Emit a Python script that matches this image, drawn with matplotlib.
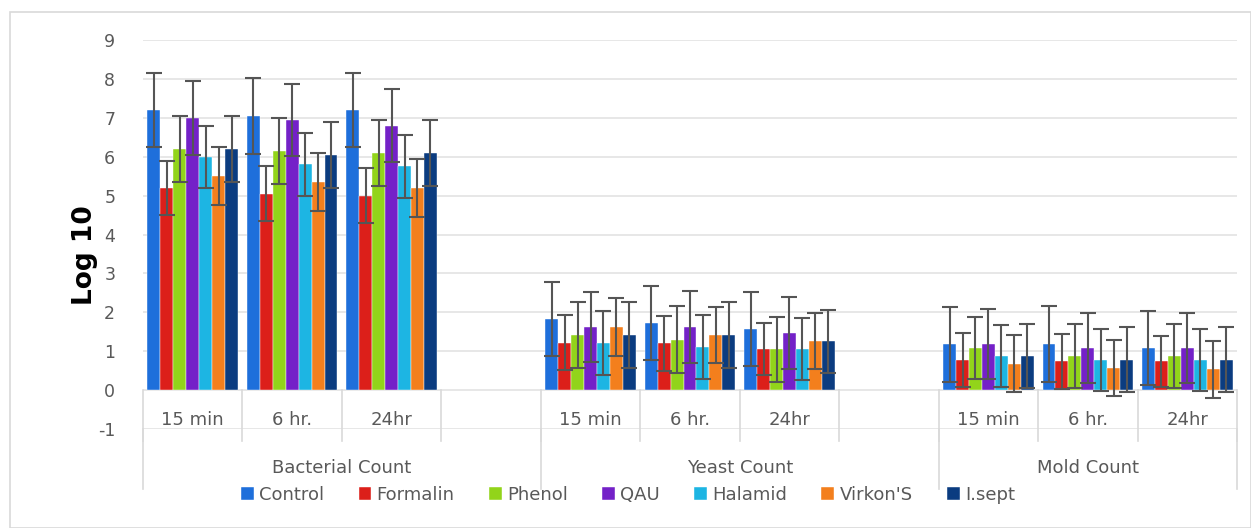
import numpy as np
import matplotlib.pyplot as plt

plt.rcParams['axes.unicode_minus'] = False

groups = ["Bacterial Count", "Yeast Count", "Mold Count"]
times = ["15 min", "6 hr.", "24hr"]
series = ["Control", "Formalin", "Phenol", "QAU", "Halamid", "Virkon'S", "I.sept"]

# values per series: Bacterial (15min, 6hr, 24hr), Yeast (...), Mold (...)
control = [7.20, 7.05, 7.20, 1.83, 1.72, 1.57, 1.18, 1.18, 1.08]
formalin = [5.20, 5.05, 5.00, 1.22, 1.20, 1.05, 0.78, 0.74, 0.74]
phenol = [6.20, 6.15, 6.10, 1.42, 1.30, 1.05, 1.08, 0.88, 0.88]
qau = [7.00, 6.95, 6.80, 1.63, 1.62, 1.47, 1.18, 1.08, 1.08]
halamid = [6.00, 5.80, 5.75, 1.22, 1.10, 1.05, 0.88, 0.78, 0.78]
virkon = [5.50, 5.35, 5.20, 1.62, 1.42, 1.25, 0.68, 0.57, 0.53]
isept = [6.20, 6.05, 6.10, 1.42, 1.42, 1.25, 0.88, 0.78, 0.78]

control_sd = [0.95, 0.98, 0.95, 0.95, 0.95, 0.95, 0.96, 0.97, 0.95]
formalin_sd = [0.70, 0.70, 0.70, 0.70, 0.70, 0.67, 0.70, 0.70, 0.65]
phenol_sd = [0.85, 0.85, 0.85, 0.85, 0.87, 0.83, 0.80, 0.83, 0.83]
qau_sd = [0.95, 0.93, 0.93, 0.90, 0.92, 0.92, 0.90, 0.90, 0.90]
halamid_sd = [0.80, 0.80, 0.80, 0.82, 0.82, 0.80, 0.80, 0.80, 0.80]
virkon_sd = [0.75, 0.75, 0.75, 0.75, 0.72, 0.72, 0.73, 0.73, 0.73]
isept_sd = [0.85, 0.85, 0.85, 0.85, 0.85, 0.82, 0.83, 0.83, 0.83]

values = [control, formalin, phenol, qau, halamid, virkon, isept]
errors = [control_sd, formalin_sd, phenol_sd, qau_sd, halamid_sd, virkon_sd, isept_sd]
colors = ['#1E6FDB', '#DC1F1A', '#92D41A', '#7421C8', '#1DB5E3', '#F37F1D', '#0B3C80']

fig = plt.figure(figsize=(12.51, 5.28), dpi=100)
fig.patches.append(plt.Rectangle((10 / 1251, 0), 1 - 10 / 1251, 1 - 12 / 528,
                                 transform=fig.transFigure, fill=False,
                                 edgecolor='#D9D9D9', linewidth=1.2))
ax = fig.add_axes([143 / 1251, 99 / 528, 1094 / 1251, 389 / 528])

# slot index for each (group, time): groups take 4, 4, 3 slots
slots = np.array([g * 4 + t for g in range(3) for t in range(3)])
width = 0.13
for i, (vals, errs, c) in enumerate(zip(values, errors, colors)):
    x = slots + 0.5 + (i - 3) * width
    ax.bar(x, vals, width=width, color=c, label=series[i], zorder=3,
           edgecolor='white', linewidth=0.3)
    ax.errorbar(x, vals, yerr=errs, fmt='none', ecolor='#555555',
                elinewidth=1.5, capsize=6, capthick=1.5, zorder=4)

ax.set_xlim(0, 11)
ax.set_ylim(-1, 9)
ax.set_yticks(range(-1, 10))
ax.tick_params(axis='y', length=0, pad=20, labelsize=12.5, labelcolor='#595959')
ax.set_xticks([])
for s in ax.spines.values():
    s.set_visible(False)
for yv in range(-1, 10):
    ax.axhline(yv, color='#E3E3E3', linewidth=1.2, zorder=1)

# category axis: time labels and separators
for k, s in enumerate(slots):
    ax.text(s + 0.5, -0.78, times[k % 3], ha='center', va='center',
            fontsize=13, color='#595959')
for xb in range(0, 12):
    ax.plot([xb, xb], [0, -1.3], color='#D9D9D9', linewidth=1.2,
            clip_on=False, zorder=1)
for xb in [0, 4, 8, 11]:
    ax.plot([xb, xb], [-1, -2.55], color='#D9D9D9', linewidth=1.2,
            clip_on=False, zorder=1)
for g, (a, b) in enumerate([(0, 4), (4, 8), (8, 11)]):
    ax.text((a + b) / 2, -2.0, groups[g], ha='center', va='center',
            fontsize=13, color='#595959')

fig.text(85 / 1251, 1 - 255 / 528, "Log 10", rotation=90, ha='center',
         va='center', fontsize=19, fontweight='bold', color='black')

fig.legend(loc='center', bbox_to_anchor=(628 / 1251, 1 - 495 / 528), ncol=7,
           frameon=False, fontsize=13, handlelength=0.7, handleheight=0.7,
           handletextpad=0.3, columnspacing=1.9, labelcolor='#595959')

fig.savefig("out.png", dpi=100)
